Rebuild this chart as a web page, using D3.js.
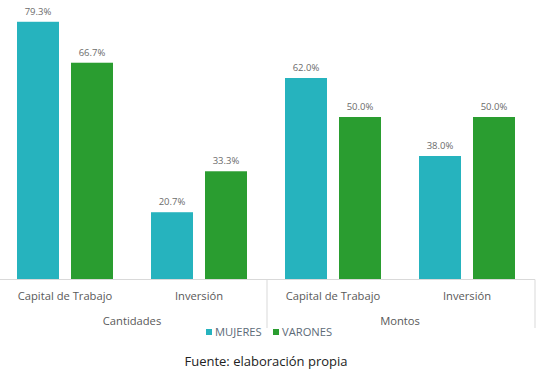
<!DOCTYPE html>
<html>
<head>
<meta charset="utf-8">
<script src="https://cdn.jsdelivr.net/npm/d3@7"></script>
<style>
  body { margin: 0; background: #fff; }
  text { font-family: "Open Sans", sans-serif; }
</style>
</head>
<body>
<svg id="chart" width="551" height="370"></svg>
<script>
// data
var groups = ["Cantidades", "Montos"];
var categories = ["Capital de Trabajo", "Inversión"];
var series = ["MUJERES", "VARONES"];
var mujeres = [79.3, 20.7, 62.0, 38.0];
var varones = [66.7, 33.3, 50.0, 50.0];
var colors = ["#26b3be", "#2a9d30"];

var svg = d3.select('#chart');

// one row per (group, category)
var rows = [];
groups.forEach(function(g, gi) {
    categories.forEach(function(c, ci) {
        var i = gi * categories.length + ci;
        rows.push({key: g + '|' + c, group: g, cat: c, values: [mujeres[i], varones[i]]});
    });
});

var baseline = 279.5;

xScale = d3.scaleBand()
    .domain(rows.map(function(d) { return d.key; }))
    .range([-2, 534])
    .paddingInner(0)
    .paddingOuter(0);

xInner = d3.scaleBand()
    .domain(series)
    .range([19, 115])
    .paddingInner(12 / 54);

yScale = d3.scaleLinear()
    .domain([0, 100])
    .range([baseline, baseline - 325]);

var rowG = svg.selectAll('.row')
    .data(rows)
    .enter()
    .append('g')
    .attr('class', 'row')
    .attr('transform', function(d) { return 'translate(' + xScale(d.key) + ',0)'; });

rowG.selectAll('rect')
    .data(function(d) { return d.values.map(function(v, i) { return {s: series[i], v: v, i: i}; }); })
    .enter()
    .append('rect')
    .attr('x', function(d) { return xInner(d.s); })
    .attr('width', xInner.bandwidth())
    .attr('y', function(d) { return yScale(d.v); })
    .attr('height', function(d) { return baseline - yScale(d.v); })
    .style('fill', function(d) { return colors[d.i]; });

rowG.selectAll('.val')
    .data(function(d) { return d.values.map(function(v, i) { return {s: series[i], v: v}; }); })
    .enter()
    .append('text')
    .attr('class', 'val')
    .attr('x', function(d) { return xInner(d.s) + xInner.bandwidth() / 2; })
    .attr('y', function(d) { return yScale(d.v) - 7; })
    .attr('text-anchor', 'middle')
    .style('font-size', '9.5px')
    .style('fill', '#6b6b6b')
    .text(function(d) { return d.v.toFixed(1) + '%'; });

// category labels
rowG.append('text')
    .attr('x', xScale.bandwidth() / 2)
    .attr('y', 300)
    .attr('text-anchor', 'middle')
    .style('font-size', '11.2px')
    .style('fill', '#595959')
    .text(function(d) { return d.cat; });

// axis line and separators
svg.append('line')
    .attr('x1', 0).attr('x2', 535)
    .attr('y1', baseline).attr('y2', baseline)
    .style('stroke', '#d9d9d9');

var sepX = [xScale(rows[2].key) + 1, xScale(rows[3].key) + xScale.bandwidth() + 1];
svg.selectAll('.sep')
    .data(sepX)
    .enter()
    .append('line')
    .attr('class', 'sep')
    .attr('x1', function(d) { return d; }).attr('x2', function(d) { return d; })
    .attr('y1', baseline).attr('y2', 328)
    .style('stroke', '#d9d9d9');

// group labels
svg.selectAll('.grp')
    .data(groups)
    .enter()
    .append('text')
    .attr('class', 'grp')
    .attr('x', function(g, gi) {
        var first = xScale(rows[gi * 2].key);
        return first + xScale.bandwidth();
    })
    .attr('y', 325)
    .attr('text-anchor', 'middle')
    .style('font-size', '11.2px')
    .style('fill', '#595959')
    .text(function(g) { return g; });

// legend
var legendX = [206, 273];
var legend = svg.selectAll('.legend')
    .data(series)
    .enter()
    .append('g')
    .attr('class', 'legend')
    .attr('transform', function(d, i) { return 'translate(' + legendX[i] + ',329)'; });

legend.append('rect')
    .attr('width', 6).attr('height', 6)
    .attr('y', 0)
    .style('fill', function(d, i) { return colors[i]; });

legend.append('text')
    .attr('x', 9)
    .attr('y', 7)
    .style('font-size', '11.2px')
    .style('fill', '#5d6b78')
    .text(function(d) { return d; });

svg.append('text')
    .attr('x', 266)
    .attr('y', 366)
    .attr('text-anchor', 'middle')
    .style('font-size', '13px')
    .style('fill', '#222')
    .text('Fuente: elaboración propia');
</script>
</body>
</html>
